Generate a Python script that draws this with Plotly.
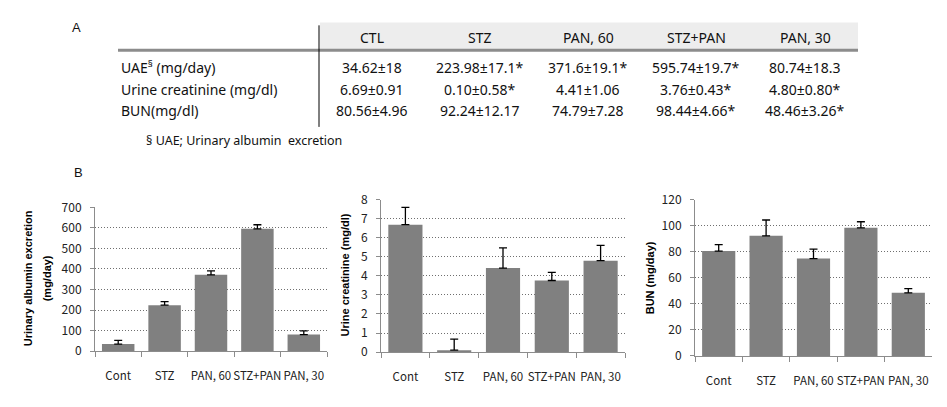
import plotly.graph_objects as go

W, H = 947, 407

# ---------------- data ----------------
table_cols = ["CTL", "STZ", "PAN, 60", "STZ+PAN", "PAN, 30"]
table_rows = ["UAE<sup>§</sup> (mg/day)", "Urine creatinine (mg/dl)", "BUN(mg/dl)"]
row_uae = ["34.62±18", "223.98±17.1*", "371.6±19.1*", "595.74±19.7*", "80.74±18.3"]
row_cre = ["6.69±0.91", "0.10±0.58*", "4.41±1.06", "3.76±0.43*", "4.80±0.80*"]
row_bun = ["80.56±4.96", "92.24±12.17", "74.79±7.28", "98.44±4.66*", "48.46±3.26*"]
footnote = "§ UAE; Urinary albumin  excretion"

groups = ["Cont", "STZ", "PAN, 60", "STZ+PAN", "PAN, 30"]
uae_mean = [34.62, 223.98, 371.6, 595.74, 80.74]
uae_err = [18, 17.1, 19.1, 19.7, 18.3]
cre_mean = [6.69, 0.10, 4.41, 3.76, 4.80]
cre_err = [0.91, 0.58, 1.06, 0.43, 0.80]
bun_mean = [80.56, 92.24, 74.79, 98.44, 48.46]
bun_err = [4.96, 12.17, 7.28, 4.66, 3.26]

# ---------------- helpers ----------------
def px(x):
    return x / W

def py(y):
    return 1 - y / H

BAR = "#808080"
AX = "#8c8c8c"
TFONT = "Noto Sans, sans-serif"
AFONT = "Noto Sans CJK KR, Noto Sans, sans-serif"

fig = go.Figure()

charts = [
    (uae_mean, uae_err, "x", "y"),
    (cre_mean, cre_err, "x2", "y2"),
    (bun_mean, bun_err, "x3", "y3"),
]
for mean, err, xa, ya in charts:
    fig.add_trace(go.Bar(
        x=groups, y=mean, xaxis=xa, yaxis=ya,
        marker=dict(color=BAR, line=dict(width=0)),
        error_y=dict(type="data", symmetric=False, array=err,
                     arrayminus=[0] * len(err), color="black",
                     thickness=1.3, width=4),
        showlegend=False, hoverinfo="skip",
    ))

domains = [
    ([95, 327], [356, 206], [0, 700], 100),
    ([381, 625], [357, 198], [0, 8], 1),
    ([695, 932], [361, 198], [0, 120], 20),
]
for i, (dx, dy, rng, dt) in enumerate(domains):
    sfx = "" if i == 0 else str(i + 1)
    fig.update_layout({
        "xaxis" + sfx: dict(
            domain=[px(dx[0]), px(dx[1])], anchor="y" + sfx,
            type="category", tickson="boundaries", ticks="outside",
            ticklen=5, tickcolor=AX, showline=True, linecolor=AX,
            linewidth=1, showgrid=False, ticklabelstandoff=14, tickangle=0,
            tickfont=dict(family=AFONT, size=11.5, color="#222"),
            fixedrange=True,
        ),
        "yaxis" + sfx: dict(
            domain=[py(dy[0]), py(dy[1])], anchor="x" + sfx,
            range=rng, dtick=dt, tick0=0, ticks="outside", ticklen=4,
            tickcolor=AX, showline=True, linecolor=AX, linewidth=1,
            showgrid=True, gridcolor="#6f6f6f", griddash="1px,2px",
            gridwidth=1, zeroline=False, ticklabelstandoff=6,
            tickfont=dict(family=AFONT, size=12, color="#222"),
            fixedrange=True,
        ),
    })

# ---------------- table (panel A) ----------------
col_x = [372, 480, 588, 696, 805]
row_y = [60, 83, 105]
shapes = [
    dict(type="rect", xref="paper", yref="paper",
         x0=px(320), x1=px(858), y0=py(41), y1=py(13),
         fillcolor="#ededed", line=dict(width=0), layer="below"),
    dict(type="line", xref="paper", yref="paper",
         x0=px(118), x1=px(858), y0=py(42), y1=py(42),
         line=dict(color="#8c8c8c", width=3)),
    dict(type="line", xref="paper", yref="paper",
         x0=px(319), x1=px(319), y0=py(16), y1=py(122),
         line=dict(color="black", width=1)),
]

ann = []
for cx, name in zip(col_x, table_cols):
    ann.append(dict(x=px(cx), y=py(29), text=name, xanchor="center",
                    yanchor="middle", font=dict(family=TFONT, size=14, color="#111")))
for ry, label, vals in zip(row_y, table_rows, [row_uae, row_cre, row_bun]):
    ann.append(dict(x=px(119), y=py(ry), text=label, xanchor="left",
                    yanchor="middle", font=dict(family=TFONT, size=14, color="#111")))
    for cx, v in zip(col_x, vals):
        ann.append(dict(x=px(cx), y=py(ry), text=v, xanchor="center",
                        yanchor="middle", font=dict(family=TFONT, size=14, color="#111")))
ann.append(dict(x=px(144), y=py(136), text=footnote, xanchor="left",
                yanchor="middle", font=dict(family=TFONT, size=12.5, color="#111")))
ann.append(dict(x=px(76), y=py(18), text="A", xanchor="center", yanchor="middle",
                font=dict(family="Liberation Sans, Arial, sans-serif", size=13, color="#111")))
ann.append(dict(x=px(78), y=py(170), text="B", xanchor="center", yanchor="middle",
                font=dict(family="Liberation Sans, Arial, sans-serif", size=13, color="#111")))

# ---------------- y axis titles ----------------
BF = dict(family="Liberation Sans, Arial, sans-serif", size=11, color="black")
for x, y, t in [(28, 280, "<b>Urinary albumin excretion</b>"),
                (47, 280, "<b>(mg/day)</b>"),
                (345, 277, "<b>Urine creatinine (mg/dl)</b>"),
                (650, 280, "<b>BUN (mg/day)</b>")]:
    ann.append(dict(x=px(x), y=py(y), text=t, textangle=-90, xanchor="center",
                    yanchor="middle", font=BF))

for a in ann:
    a.update(xref="paper", yref="paper", showarrow=False)

fig.update_layout(
    width=W, height=H, margin=dict(l=0, r=0, t=0, b=0),
    paper_bgcolor="white", plot_bgcolor="white",
    bargap=0.3, shapes=shapes, annotations=ann,
)

fig.write_html("out.html")
